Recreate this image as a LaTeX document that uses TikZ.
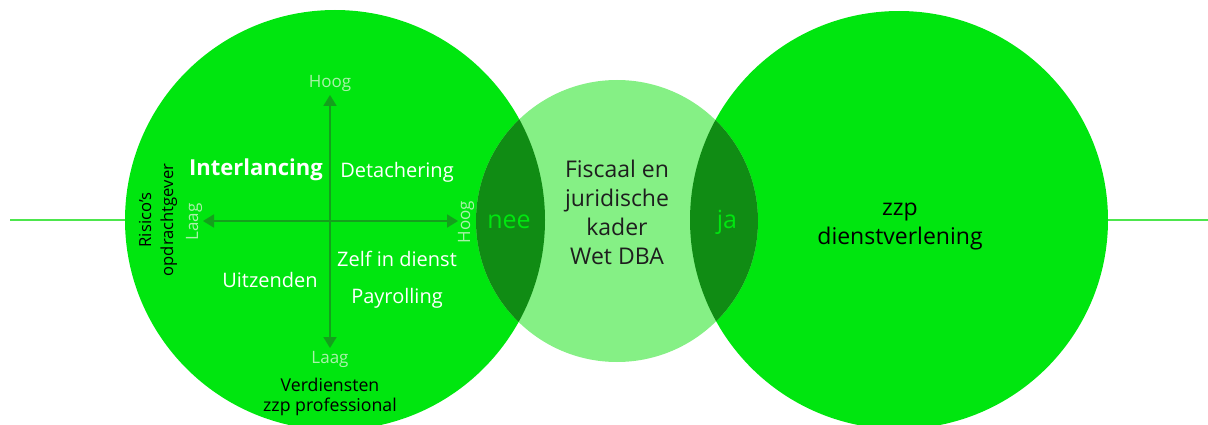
\documentclass[tikz,border=0pt]{standalone}
\usepackage{fontspec}
\setmainfont{Open Sans}
\usetikzlibrary{arrows.meta}
\definecolor{bright}{RGB}{0,230,15}
\definecolor{pale}{RGB}{133,240,133}
\definecolor{darklens}{RGB}{16,140,20}
\definecolor{axis}{RGB}{20,160,28}
\definecolor{lbl}{RGB}{170,242,170}
\definecolor{linegreen}{RGB}{77,230,77}
\definecolor{ink}{RGB}{30,30,30}
\tikzset{
  axisline/.style={draw=axis, line width=1.8pt, -{Triangle[length=11pt,width=13pt]}},
  small/.style={text=lbl, font=\fontsize{17}{20}\selectfont, inner sep=0pt},
  item/.style={text=white, font=\fontsize{20}{24}\selectfont, inner sep=0pt},
  blk/.style={text=black, inner sep=0pt, align=center},
  big/.style={text=ink, font=\fontsize{23}{29}\selectfont, inner sep=0pt, align=center},
  lens/.style={text=bright, font=\fontsize{25}{30}\selectfont, inner sep=0pt},
}
\begin{document}
\begin{tikzpicture}[x=1pt,y=-1pt]
\useasboundingbox (0,0) rectangle (1208,425);
\begin{scope}
\clip (0,0) rectangle (1208,425);
\coordinate (lc) at (335,220);
\coordinate (mc) at (617,221);
\coordinate (rc) at (899,220);
\draw[linegreen, line width=2pt] (10,220) coordinate (l0) -- (126,220) coordinate (l1);
\draw[linegreen, line width=2pt] (1107,220) coordinate (r0) -- (1208,220) coordinate (r1);
\fill[bright] (lc) circle[radius=210];
\fill[bright] (rc) circle[radius=209];
\fill[pale] (mc) circle[radius=141];
\begin{scope}
\clip (mc) circle[radius=141];
\fill[darklens] (lc) circle[radius=210];
\fill[darklens] (rc) circle[radius=209];
\end{scope}
\end{scope}
% axes
\coordinate (o) at (330,221);
\coordinate (vtop) at (330,95);
\coordinate (vbot) at (330,348);
\coordinate (hl) at (203,221);
\coordinate (hr) at (458,221);
\draw[axisline] (o) -- (vtop);
\draw[axisline] (o) -- (vbot);
\draw[axisline] (o) -- (hl);
\draw[axisline] (o) -- (hr);
\node[small] (hoogT) at (330,83) {Hoog};
\node[small] (laagB) at (330,359) {Laag};
\node[small, rotate=90] (laagL) at (194,222) {Laag};
\node[small, rotate=90] (hoogR) at (466,222) {Hoog};
\node[item, font=\bfseries\fontsize{22}{26}\selectfont] (inter) at (256,170) {Interlancing};
\node[item] (det) at (397,172) {Detachering};
\node[item] (zelf) at (397,259) {Zelf in dienst};
\node[item] (uit) at (270,280) {Uitzenden};
\node[item] (pay) at (397,298) {Payrolling};
\node[blk, rotate=90, font=\fontsize{16.6}{22}\selectfont] (ris) at (158,220) {Risico’s\\opdrachtgever};
\node[blk, font=\fontsize{17.7}{19.5}\selectfont] (verd) at (330,397) {Verdiensten\\zzp professional};
\node[big] (fisc) at (617,212) {Fiscaal en\\juridische\\kader\\Wet DBA};
\node[lens] (nee) at (509,222) {nee};
\node[lens] (ja) at (727,222) {ja};
\node[big, text=black, font=\fontsize{23}{29}\selectfont] (zzp) at (900,226) {zzp\\dienstverlening};
\end{tikzpicture}
\end{document}
